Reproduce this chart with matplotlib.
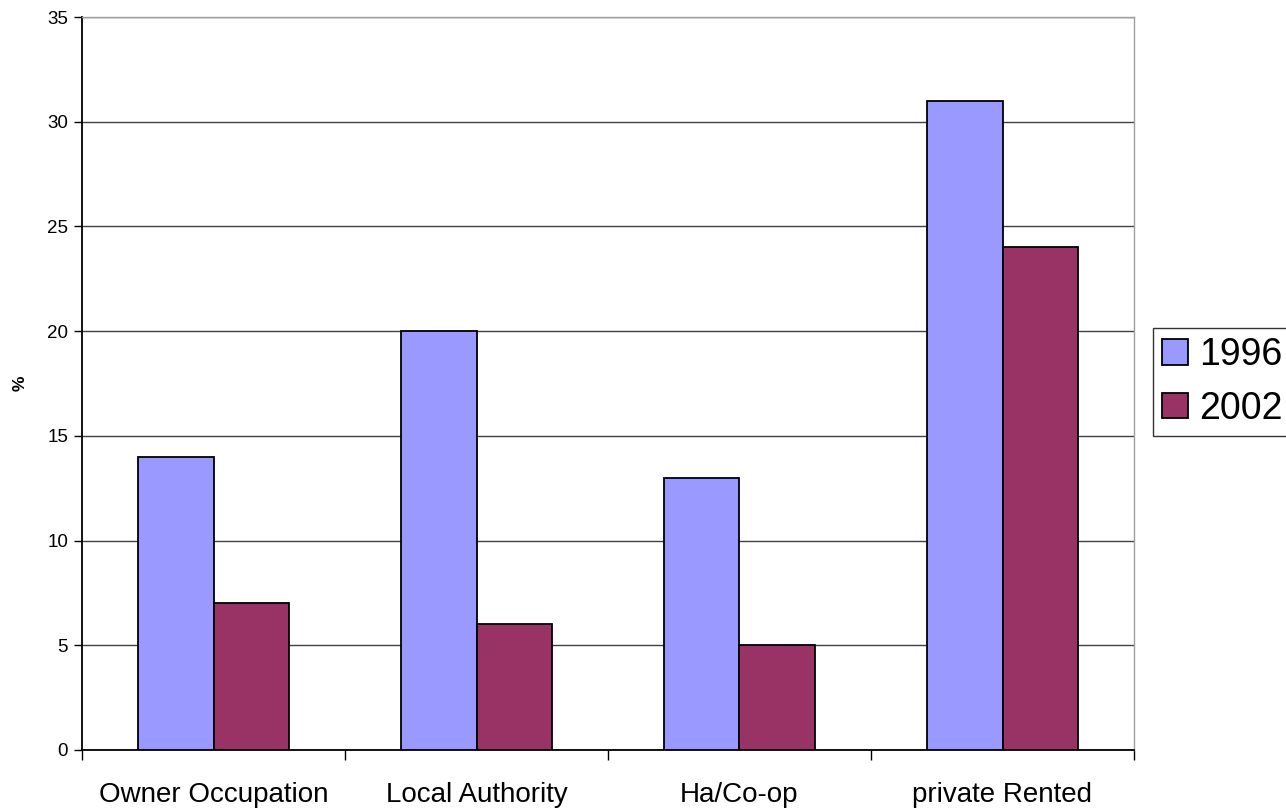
import matplotlib
matplotlib.use("Agg")
import matplotlib.pyplot as plt
import numpy as np

plt.rcParams['font.family'] = ['Liberation Sans', 'DejaVu Sans']

categories = ["Owner Occupation", "Local Authority", "Ha/Co-op", "private Rented"]
series_names = ["1996", "2002"]
values_1996 = [14, 20, 13, 31]
values_2002 = [7, 6, 5, 24]
y_ticks = [0, 5, 10, 15, 20, 25, 30, 35]

colors = ["#9999FF", "#993366"]

W, H = 1286, 808
fig = plt.figure(figsize=(W / 100, H / 100), dpi=100)
ax = fig.add_axes([82 / W, 1 - 750 / H, (1134 - 82) / W, (750 - 17) / H])

x = np.arange(len(categories))
width = 0.286
ax.bar(x - width / 2, values_1996, width, color=colors[0], edgecolor="black",
       linewidth=1.3, label=series_names[0], zorder=3)
ax.bar(x + width / 2, values_2002, width, color=colors[1], edgecolor="black",
       linewidth=1.3, label=series_names[1], zorder=3)

ax.set_xlim(-0.5, len(categories) - 0.5)
ax.set_ylim(0, 35)
ax.set_yticks(y_ticks)
ax.set_yticklabels([str(v) for v in y_ticks], fontsize=13.5)
ax.yaxis.grid(True, color="#404040", linewidth=1.0, zorder=0)
ax.set_axisbelow(True)

# category labels centred, tick marks on category boundaries
ax.set_xticks(x)
ax.set_xticklabels(categories, fontsize=20)
ax.tick_params(axis="x", which="major", length=0, pad=23)
ax.set_xticks(np.arange(-0.5, len(categories)), minor=True)
ax.tick_params(axis="x", which="minor", length=7, width=1.0, color="black")
ax.tick_params(axis="y", length=6, width=1.0, pad=4)

for side in ["top", "right"]:
    ax.spines[side].set_color("#a0a0a0")
    ax.spines[side].set_linewidth(1.0)
for side in ["left", "bottom"]:
    ax.spines[side].set_color("black")
    ax.spines[side].set_linewidth(1.3)

fig.text(20 / W, 1 - 383 / H, "%", rotation=90, fontsize=12.5, fontweight="bold",
         ha="center", va="center")

leg = ax.legend(loc="upper left", bbox_to_anchor=(1153 / W, 1 - 328 / H),
                bbox_transform=fig.transFigure, fontsize=27, frameon=True,
                fancybox=False, edgecolor="black", handlelength=0.67,
                handleheight=0.67, handletextpad=0.32, borderpad=0.25,
                labelspacing=0.46, borderaxespad=0)
leg.get_frame().set_linewidth(1.0)
for h in leg.legend_handles:
    h.set_linewidth(1.3)

fig.savefig("out.png", dpi=100, facecolor="white")
